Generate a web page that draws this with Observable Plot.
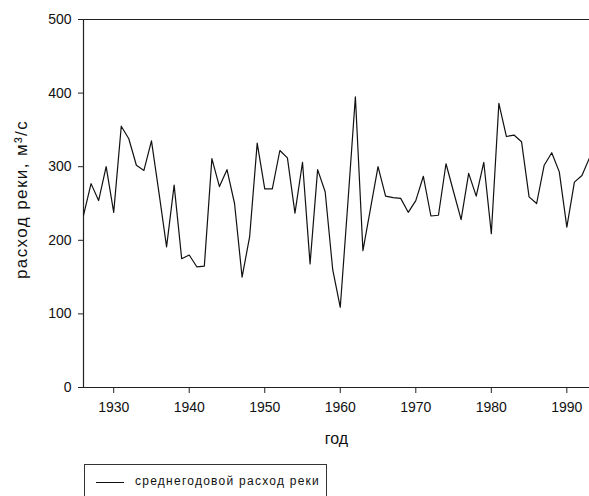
<!DOCTYPE html>
<html>
<head>
<meta charset="utf-8">
<script src="https://cdn.jsdelivr.net/npm/d3@7"></script>
<script src="https://cdn.jsdelivr.net/npm/@observablehq/plot@0.6"></script>
<style>
  html, body { margin: 0; padding: 0; background: #fff; }
  body { width: 589px; height: 496px; overflow: hidden; position: relative;
         font-family: "Liberation Sans", Arial, sans-serif; }
  #chart svg { display: block; }
  .legend { position: absolute; left: 84px; top: 464px; width: 243px; height: 40px;
            border: 1px solid #333; box-sizing: border-box; background: #fff; }
  .legend .swatch { position: absolute; left: 11px; top: 17px; width: 28px; height: 0;
                    border-top: 1px solid #111; }
  .legend .label { position: absolute; left: 50px; top: 9px; font-size: 12px;
                   letter-spacing: 1.25px; color: #111; white-space: nowrap; }
</style>
</head>
<body>
<div id="chart"></div>
<div class="legend"><div class="swatch"></div><div class="label">среднегодовой расход реки</div></div>
<script>
// Mean annual river discharge, m³/s, one value per year
const years = d3.range(1926, 1994);
const discharge = [
  234, 277, 254, 300, 238, 355, 338, 302, 295, 335,
  264, 191, 275, 175, 180, 164, 165, 311, 273, 296,
  250, 150, 205, 332, 270, 270, 322, 312, 237, 306,
  168, 296, 266, 160, 109, 250, 395, 186, 243, 300,
  260, 258, 257, 238, 254, 287, 233, 234, 304, 266,
  228, 291, 260, 306, 209, 386, 341, 343, 334, 259,
  250, 302, 319, 293, 218, 279, 288, 312
];
const xTicks = [1930, 1940, 1950, 1960, 1970, 1980, 1990];
const yTicks = [0, 100, 200, 300, 400, 500];
const xTitle = "год";
const yTitle = "расход реки, м³/с";

const rows = years.map((year, i) => ({year, value: discharge[i]}));

const chart = Plot.plot({
  width: 589,
  height: 452,
  marginLeft: 83,
  marginRight: 0,
  marginTop: 19,
  marginBottom: 65,
  style: {fontFamily: "Liberation Sans, Arial, sans-serif", fontSize: "14px", color: "#111", background: "#fff", overflow: "visible"},
  x: {domain: [1926, 1993]},
  y: {domain: [0, 500]},
  marks: [
    Plot.ruleY([0], {stroke: "#222", strokeWidth: 1.2}),
    Plot.ruleY([500], {stroke: "#222", strokeWidth: 1.2}),
    Plot.ruleX([1926], {stroke: "#222", strokeWidth: 1.2}),
    Plot.axisX({ticks: xTicks, tickFormat: d => String(d), tickSize: 6, tickPadding: 9, label: null, stroke: "#222", fontSize: 14}),
    Plot.axisY({ticks: yTicks, tickSize: 5, tickPadding: 7, label: null, stroke: "#222", fontSize: 14}),
    Plot.line(rows, {x: "year", y: "value", stroke: "#111", strokeWidth: 1.2}),
    Plot.text([xTitle], {frameAnchor: "bottom", dy: 56, fontSize: 16, fill: "#111"}),
    Plot.text([yTitle], {frameAnchor: "left", textAnchor: "middle", dx: -62, dy: -4, rotate: -90, fontSize: 17, fill: "#111", style: "letter-spacing: 1.4px"})
  ]
});
// widen the spacing of the vertical axis title
chart.querySelectorAll("text").forEach(t => { if (t.textContent === yTitle) t.setAttribute("letter-spacing", "1.4"); });
document.getElementById("chart").appendChild(chart);
</script>
</body>
</html>
